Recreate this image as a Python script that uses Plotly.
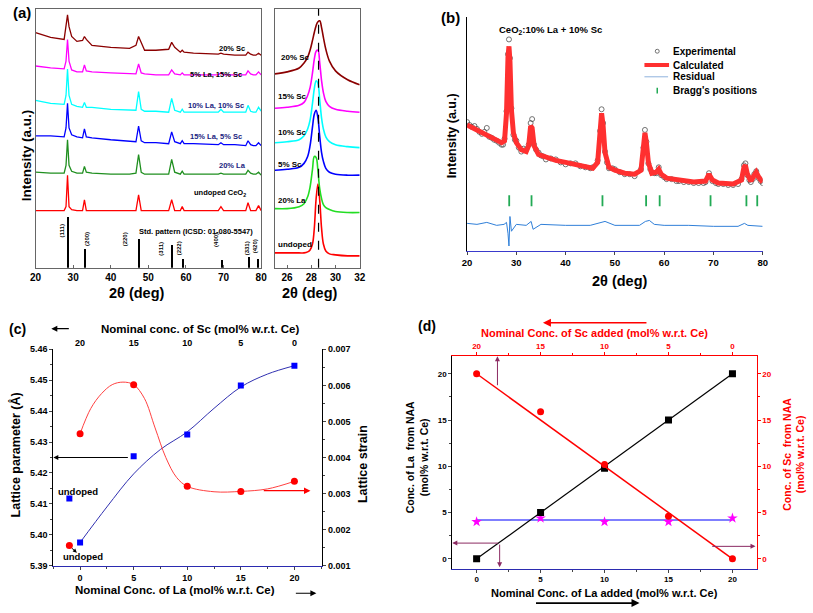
import plotly.graph_objects as go

W, H = 813, 613
def px(x): return x / W
def py(y): return 1 - y / H

FONT = "Arial, Liberation Sans, sans-serif"
RED, GREEN, BLUE, CYAN, MAGENTA, MAROON = "#ff0000", "#1f8f1f", "#0000ff", "#00ffff", "#ff00ff", "#8b0000"

# ---------------- panel (a): XRD patterns (arbitrary stacked intensity) ----------------
XA = [20, 24, 27.6, 28.1, 28.5, 28.9, 29.6, 31, 32.5, 33.0, 33.5, 35, 40, 45, 46.7, 47.4, 48.1, 49, 52,
      55.4, 56.2, 57.0, 58.5, 59.0, 59.5, 62, 68.6, 69.3, 70.0, 73, 75.9, 76.5, 77.2, 77.9, 78.6, 79.3, 80]
A_UNDOPED = [58, 58, 58, 62, 94, 62, 59, 58, 58, 69, 58, 58, 58, 58, 58, 74, 58, 58, 58,
             58, 69, 58, 58, 62, 58, 58, 58, 62, 58, 58, 58, 66, 58, 58, 58, 63, 58]
A_LA20 = [97, 96, 96, 104, 130, 104, 98, 96, 96, 103, 97, 96, 95, 95, 96, 115, 97, 95, 95,
          95, 110, 97, 95, 98, 95, 95, 95, 96, 95, 95, 95, 99, 96, 95, 95, 97, 94]
A_LA15SC5 = [134, 134, 133, 142, 167, 142, 135, 133, 132, 141, 133, 132, 130, 128, 128, 144, 129, 127, 127,
             126, 138, 128, 126, 129, 126, 126, 125, 127, 125, 125, 124, 129, 125, 124, 124, 127, 124]
A_LA10SC10 = [170, 167, 166, 175, 202, 175, 166, 164, 163, 168, 163, 163, 161, 160, 160, 179, 161, 159, 159,
              158, 172, 160, 158, 161, 158, 158, 158, 161, 158, 158, 158, 165, 159, 158, 158, 163, 159]
A_LA5SC15 = [205, 203, 202, 210, 232, 210, 201, 199, 199, 206, 200, 199, 198, 197, 197, 207, 198, 197, 196,
             196, 201, 197, 196, 198, 196, 196, 196, 198, 196, 196, 196, 200, 197, 196, 196, 199, 196]
A_SC20 = [239, 234, 232, 244, 257, 245, 235, 230, 231, 235, 232, 226, 224, 223, 226, 235, 228, 221, 221,
          222, 229, 224, 219, 221, 219, 218, 217, 218, 217, 216, 216, 219, 217, 216, 216, 218, 216]
A_LABELS = ["undoped CeO<sub>2</sub>", "20% La", "15% La, 5% Sc", "10% La, 10% Sc", "5% La, 15% Sc", "20% Sc"]

STD_POS = [28.55, 33.08, 47.48, 56.34, 59.09, 69.42, 76.70, 79.07]
STD_INT = [52, 19, 29, 23, 9, 8, 11, 9]
STD_HKL = ["(111)", "(200)", "(220)", "(311)", "(222)", "(400)", "(331)", "(420)"]

# inset: (111) peak
XI = [25, 26, 27, 27.4, 27.7, 27.9, 28.1, 28.25, 28.4, 28.55, 28.7, 28.85, 29.0, 29.2, 29.5, 30, 31, 32]
I_UNDOPED = [15, 15, 15, 15, 16, 18, 24, 40, 70, 85, 68, 40, 24, 17, 14, 13, 12, 12]
I_LA20 = [60, 60, 62, 65, 72, 82, 100, 113, 112, 98, 80, 70, 64, 61, 59, 57, 56, 56]
I_SC5 = [99, 100, 102, 106, 113, 124, 143, 156, 160, 152, 133, 117, 108, 101, 97, 95, 94, 94]
I_SC10 = [127, 128, 130, 134, 141, 150, 167, 182, 190, 187, 170, 152, 141, 133, 128, 125, 123, 122]
I_SC15 = [162, 163, 165, 168, 175, 183, 198, 212, 220, 221, 208, 190, 178, 169, 164, 161, 159, 158]
I_SC20 = [197, 199, 203, 208, 214, 221, 231, 239, 246, 250, 251, 244, 234, 222, 210, 200, 191, 186]
I_LABELS = ["undoped", "20% La", "5% Sc", "10% Sc", "15% Sc", "20% Sc"]
PEAK_REF = 28.6

# ---------------- panel (b): Rietveld refinement ----------------
XB = [20, 21, 22, 23, 24, 25, 26, 27, 27.6, 28.0, 28.3, 28.5, 28.7, 29.0, 29.4, 30, 31, 32, 32.5, 32.9, 33.2,
      33.6, 34.5, 36, 38, 40, 42, 44, 45.5, 46.5, 47.0, 47.3, 47.6, 48.0, 48.8, 50, 52, 54, 55.3, 55.8, 56.1,
      56.4, 56.8, 57.5, 58.4, 58.9, 59.4, 60.5, 63, 66, 68.4, 69.1, 69.8, 71, 74, 75.7, 76.2, 76.5, 76.9, 77.6,
      78.3, 78.7, 79.2, 80]
B_CALC = [128, 125.5, 123, 120.5, 118, 115.5, 113, 110, 112, 140, 197, 208, 193, 143, 120, 110, 103, 101, 107,
          127, 125, 107, 98, 95, 92, 90, 88, 86, 84, 90, 120, 140, 128, 100, 85, 82, 79, 78, 82, 103, 120, 110,
          90, 79, 80, 83, 78, 74, 72, 70, 71, 78, 72, 69, 68, 72, 85, 87, 78, 71, 77, 80, 75, 70]
XE = [20, 20.5, 21, 21.5, 22, 22.5, 23, 23.5, 24, 24.5,
      25, 25.5, 26, 26.5, 27, 27.3, 27.6, 28.0, 28.3, 28.5,
      28.7, 29.0, 29.4, 29.7, 30, 30.5, 31, 31.5, 32, 32.5,
      32.9, 33.2, 33.6, 34, 34.5, 35, 35.5, 36, 37, 38,
      39, 40, 41, 42, 43, 44, 45, 45.5, 46.5, 47.0,
      47.3, 47.6, 48.0, 48.4, 48.8, 49.5, 50, 51, 52, 53,
      54, 55.3, 55.8, 56.1, 56.4, 56.8, 57.2, 57.5, 58, 58.4,
      58.9, 59.4, 60, 60.5, 61.5, 62.5, 63, 64, 65, 66,
      67, 68, 68.4, 69.1, 69.8, 70.5, 71, 72, 73, 74,
      75, 75.7, 76.2, 76.5, 76.9, 77.3, 77.6, 78, 78.3, 78.7,
      79.2, 79.6, 80]
B_EXP = [131, 128, 126, 127, 124, 121, 119, 121, 125, 116,
         115, 113, 112, 110, 108, 108, 114, 142, 200, 215,
         196, 145, 118, 113, 112, 105, 101, 104, 103, 108,
         130, 134, 108, 103, 100, 97, 96, 93, 94, 93,
         90, 88, 89, 89, 86, 85, 84, 85, 92, 122,
         144, 130, 101, 90, 84, 84, 83, 80, 78, 78,
         76, 83, 105, 123, 111, 89, 83, 80, 79, 79,
         85, 77, 75, 73, 73, 71, 71, 70, 70, 69,
         69, 69, 70, 79, 71, 69, 68, 68, 67, 67,
         68, 73, 87, 89, 77, 72, 70, 73, 78, 81,
         74, 71, 69]
XR = [20, 22, 24, 26, 27.5, 28.0, 28.3, 28.5, 28.7, 29.0, 30, 32, 33.0, 33.4, 35, 40, 45, 47.3, 48, 50, 55,
      56.2, 57.0, 58, 60, 65, 70, 75, 76.3, 77, 80]
B_RESID = [28, 27, 29, 26, 27, 29, 18, 5, 35, 20, 27, 26, 30, 22, 27, 26, 26, 29, 30, 26, 26, 30, 31, 27, 26,
           26, 25, 25, 28, 26, 25]
BRAGG = [28.55, 33.08, 47.48, 56.34, 59.09, 69.42, 76.70, 78.9]
BRAGG_LEVEL = 51
B_LEGEND = ["Experimental", "Calculated", "Residual", "Bragg's positions"]

# ---------------- panel (c): lattice parameter & strain ----------------
LA_NOM = [0, 5, 10, 15, 20]
SC_NOM = [20, 15, 10, 5, 0]
LATTICE = [5.3975, 5.4254, 5.4324, 5.4483, 5.4547]
STRAIN = [0.00466, 0.00602, 0.00320, 0.00306, 0.00334]
UNDOPED_X = -1
UNDOPED_LATTICE = 5.4117
UNDOPED_STRAIN = 0.00156
# guide curves as drawn in the figure
LAT_CURVE_X = [0, 2.5, 5, 7.5, 10, 12.5, 15, 17.5, 20]
LAT_CURVE = [5.3975, 5.409, 5.4197, 5.4276, 5.4333, 5.4409, 5.4478, 5.452, 5.4547]
STR_CURVE_X = [0, 1, 2, 3, 4, 5, 6, 7, 8, 9, 10, 12.5, 15, 17.5, 20]
STR_CURVE = [0.00466, 0.00536, 0.00577, 0.00602, 0.00609, 0.00602, 0.00564, 0.00482, 0.0040, 0.00345,
             0.0032, 0.00305, 0.00306, 0.00313, 0.00334]

# ---------------- panel (d): NAA ----------------
LA_NAA = [0, 5, 9.8, 15, 20]
SC_NAA = [20, 15.9, 10.2, 4.6, 0]
CE_NAA = [4.0, 4.4, 4.0, 4.0, 4.4]
FIT_X = [0, 20]
LA_FIT = [0, 20]
SC_FIT_X = [20, 0]
SC_FIT = [20, 0]
CE_FIT = [4.2, 4.2]

fig = go.Figure()

# (a) main
a_sets = [(A_UNDOPED, RED), (A_LA20, GREEN), (A_LA15SC5, BLUE), (A_LA10SC10, CYAN), (A_LA5SC15, MAGENTA), (A_SC20, MAROON)]
for ys, col in a_sets:
    fig.add_trace(go.Scatter(x=XA, y=ys, mode="lines", line=dict(color=col, width=1.3),
                             xaxis="x", yaxis="y", hoverinfo="skip"))
fig.add_trace(go.Bar(x=STD_POS, y=STD_INT, width=0.35, marker=dict(color="black", line=dict(width=0)),
                     xaxis="x", yaxis="y"))

# (a) inset
i_sets = [(I_UNDOPED, RED), (I_LA20, "#22dd22"), (I_SC5, BLUE), (I_SC10, CYAN), (I_SC15, MAGENTA), (I_SC20, MAROON)]
for ys, col in i_sets:
    fig.add_trace(go.Scatter(x=XI, y=ys, mode="lines", line=dict(color=col, width=1.6, shape="spline"),
                             xaxis="x2", yaxis="y2"))

# (b)
EXP_COLOR, CALC_COLOR, RES_COLOR, BRAGG_COLOR = "#505050", "#ff3030", "#2f7fd8", "#22aa55"
fig.add_trace(go.Scatter(x=XE, y=B_EXP, mode="markers", name=B_LEGEND[0],
                         marker=dict(symbol="circle-open", size=5, color=EXP_COLOR, line=dict(width=0.8)),
                         xaxis="x3", yaxis="y3"))
fig.add_trace(go.Scatter(x=XB, y=B_CALC, mode="lines", name=B_LEGEND[1],
                         line=dict(color=CALC_COLOR, width=5), xaxis="x3", yaxis="y3"))
fig.add_trace(go.Scatter(x=XR, y=B_RESID, mode="lines", name=B_LEGEND[2],
                         line=dict(color=RES_COLOR, width=1), xaxis="x3", yaxis="y3"))
fig.add_trace(go.Scatter(x=BRAGG, y=[BRAGG_LEVEL] * len(BRAGG), mode="markers", name=B_LEGEND[3],
                         marker=dict(symbol="line-ns", size=8, line=dict(color=BRAGG_COLOR, width=1.8)),
                         xaxis="x3", yaxis="y3"))

# (c)
fig.add_trace(go.Scatter(x=LAT_CURVE_X, y=LAT_CURVE, mode="lines",
                         line=dict(color="#3030b0", width=1, shape="spline", smoothing=1.0),
                         xaxis="x4", yaxis="y4"))
fig.add_trace(go.Scatter(x=LA_NOM, y=LATTICE, mode="markers",
                         marker=dict(symbol="square", size=6, color=BLUE), xaxis="x4", yaxis="y4"))
fig.add_trace(go.Scatter(x=[UNDOPED_X], y=[UNDOPED_LATTICE], mode="markers",
                         marker=dict(symbol="square", size=6, color=BLUE), xaxis="x4", yaxis="y4"))
fig.add_trace(go.Scatter(x=STR_CURVE_X, y=STR_CURVE, mode="lines",
                         line=dict(color="#ff4040", width=1, shape="spline", smoothing=1.0),
                         xaxis="x4", yaxis="y5"))
fig.add_trace(go.Scatter(x=LA_NOM, y=STRAIN, mode="markers",
                         marker=dict(symbol="circle", size=7, color=RED), xaxis="x4", yaxis="y5"))
fig.add_trace(go.Scatter(x=[UNDOPED_X], y=[UNDOPED_STRAIN], mode="markers",
                         marker=dict(symbol="circle", size=7, color=RED), xaxis="x4", yaxis="y5"))
# same samples referenced on the top (Sc) axis so that axis is drawn; invisible
fig.add_trace(go.Scatter(x=SC_NOM, y=LATTICE, mode="markers", marker=dict(opacity=0),
                         xaxis="x5", yaxis="y4", hoverinfo="skip"))

# (d)
fig.add_trace(go.Scatter(x=FIT_X, y=CE_FIT, mode="lines", line=dict(color=BLUE, width=1.2),
                         xaxis="x6", yaxis="y6"))
fig.add_trace(go.Scatter(x=LA_NOM, y=CE_NAA, mode="markers",
                         marker=dict(symbol="star", size=8, color=MAGENTA), xaxis="x6", yaxis="y6"))
fig.add_trace(go.Scatter(x=FIT_X, y=LA_FIT, mode="lines", line=dict(color="black", width=1.2),
                         xaxis="x6", yaxis="y6"))
fig.add_trace(go.Scatter(x=LA_NOM, y=LA_NAA, mode="markers",
                         marker=dict(symbol="square", size=7, color="black"), xaxis="x6", yaxis="y6"))
fig.add_trace(go.Scatter(x=SC_FIT_X, y=SC_FIT, mode="lines", line=dict(color=RED, width=1.5),
                         xaxis="x7", yaxis="y7"))
fig.add_trace(go.Scatter(x=SC_NOM, y=SC_NAA, mode="markers",
                         marker=dict(symbol="circle", size=7, color=RED), xaxis="x7", yaxis="y7"))

bold = lambda s, c="black": dict(family=FONT, size=s, color=c, weight="bold")
noline = dict(showgrid=False, zeroline=False)

layout = dict(
    width=W, height=H, margin=dict(l=0, r=0, t=0, b=0), showlegend=False, hovermode=False,
    paper_bgcolor="white", plot_bgcolor="white", font=dict(family=FONT),
    bargap=0,
    # (a) main
    xaxis=dict(domain=[px(30), px(259)], range=[20, 80], dtick=10, anchor="y", showline=True, mirror=True,
               linecolor="#666", linewidth=1, ticks="inside", ticklen=3, tickcolor="#666",
               tickfont=bold(10), **noline),
    yaxis=dict(domain=[py(267), py(4)], range=[0, 263], anchor="x", showline=True, mirror=True,
               linecolor="#666", linewidth=1, showticklabels=False, ticks="", **noline),
    # (a) inset
    xaxis2=dict(domain=[px(273), px(359)], range=[25, 32], tickvals=[26, 28, 30, 32], anchor="y2",
                showline=True, mirror=True, linecolor="#666", ticks="inside", ticklen=3, tickcolor="#666",
                tickfont=bold(10), **noline),
    yaxis2=dict(domain=[py(267), py(4)], range=[0, 263], anchor="x2", showline=True, mirror=True,
                linecolor="#666", showticklabels=False, ticks="", **noline),
    # (b)
    xaxis3=dict(domain=[px(468), px(768)], range=[20, 80], dtick=10, anchor="y3", showline=True,
                linecolor="#3a3acc", ticks="outside", ticklen=3, tickfont=bold(9.5), **noline),
    yaxis3=dict(domain=[py(250), py(12)], range=[0, 238], anchor="x3", showline=True, linecolor="black",
                showticklabels=False, ticks="", **noline),
    # (c)
    xaxis4=dict(domain=[px(48), px(321)], range=[-2.5, 22.6], tickvals=LA_NOM, anchor="y4", showline=True,
                linecolor="#2b2bb0", ticks="outside", ticklen=3, tickcolor="#444", tickfont=bold(9),
                minor=dict(ticks="outside", ticklen=2, dtick=2.5, tick0=0, tickcolor="#444"), **noline),
    yaxis4=dict(domain=[py(570), py(350)], range=[5.39, 5.46], dtick=0.01, tickformat=".2f", anchor="x4",
                showline=True, linecolor="black", ticks="outside", ticklen=3, tickfont=bold(9),
                minor=dict(ticks="outside", ticklen=2, dtick=0.005), **noline),
    yaxis5=dict(overlaying="y4", side="right", anchor="x4", range=[0.001, 0.007], dtick=0.001,
                tickformat=".3f", showline=True, linecolor="black", ticks="outside", ticklen=3,
                tickfont=bold(9), minor=dict(ticks="outside", ticklen=2, dtick=0.0005), **noline),
    xaxis5=dict(overlaying="x4", side="top", anchor="y4", range=[22.5, -2.6], tickvals=SC_NOM,
                showline=False, ticks="", tickfont=bold(9), **noline),
    # (d)
    xaxis6=dict(domain=[px(453), px(762)], range=[-1.9, 21.9], tickvals=LA_NOM, anchor="y6", showline=True,
                linecolor="#2b2bb0", ticks="outside", ticklen=3, tickcolor="#444", tickfont=bold(8),
                minor=dict(ticks="outside", ticklen=2, dtick=2.5, tick0=0, tickcolor="#444"), **noline),
    yaxis6=dict(domain=[py(573), py(357)], range=[-1.06, 21.9], tickvals=LA_NOM, anchor="x6", showline=True,
                linecolor="black", ticks="outside", ticklen=3, tickfont=bold(8),
                minor=dict(ticks="outside", ticklen=2, dtick=2.5, tick0=0), **noline),
    yaxis7=dict(overlaying="y6", side="right", anchor="x6", range=[-1.06, 21.9], tickvals=SC_NOM,
                showline=True, linecolor=RED, ticks="outside", ticklen=3, tickcolor=RED, tickfont=bold(8, RED),
                minor=dict(ticks="outside", ticklen=2, dtick=2.5, tick0=0, tickcolor=RED), **noline),
    xaxis7=dict(overlaying="x6", side="top", anchor="y6", range=[21.9, -1.9], tickvals=SC_NOM,
                showline=True, linecolor=RED, ticks="outside", ticklen=3, tickcolor=RED,
                tickfont=bold(8, RED), minor=dict(ticks="outside", ticklen=2, dtick=2.5, tick0=0, tickcolor=RED),
                **noline),
)
fig.update_layout(**layout)

ann = []
def text(x, y, s, size, color="black", angle=0, xanchor="center"):
    ann.append(dict(x=px(x), y=py(y), xref="paper", yref="paper", text=s, showarrow=False,
                    font=bold(size, color), textangle=angle, xanchor=xanchor, yanchor="middle"))

# panel letters
text(16, 8, "(a)", 15); text(451, 13, "(b)", 15); text(12, 329, "(c)", 14); text(427, 326, "(d)", 14)
# (a)
text(21, 153, "Intensity (a.u.)", 13.5, angle=-90)
text(133, 293, "2θ (deg)", 14.5)
text(309, 293, "2θ (deg)", 14.5)
a_lab_pos = [(217, 191, "black"), (230, 163, "#1a237e"), (213, 134, "#1a237e"), (213, 102, "#1a237e"),
             (213, 71, "black"), (229, 44, "black")]
for (x, y, c), s in zip(a_lab_pos, A_LABELS):
    text(x, y, s, 7.5, c)
text(193, 230, "Std. pattern (ICSD: 01-080-5547)", 7.5)
hkl_pos = [(57, 230), (82, 238), (121, 238), (157, 248), (176, 247), (213, 239), (245, 247), (253, 245)]
for (x, y), s in zip(hkl_pos, STD_HKL):
    text(x, y, s, 6, angle=-90)
i_lab_pos = [(274, 243), (274, 199), (274, 162), (274, 130), (274, 93), (277, 53)]
for (x, y), s in zip(i_lab_pos, I_LABELS):
    text(x, y, s, 8, xanchor="left")
# (b)
text(453, 133, "Intensity (a.u.)", 12.5, angle=-90)
text(623, 281, "2θ (deg)", 14.5)
text(553, 25, "CeO<sub>2</sub>:10% La + 10% Sc", 9.5)
leg_rows = [47, 61, 73, 87]
for yy, s in zip(leg_rows, B_LEGEND):
    text(675, yy, s, 10, xanchor="left")
# (c)
text(10, 457, "Lattice parameter (Å)", 12.5, angle=-90)
text(363, 467, "Lattice strain", 12.5, angle=-90)
text(197, 329, "Nominal conc. of Sc (mol% w.r.t. Ce)", 11.5)
text(172, 595, "Nominal Conc. of La (mol% w.r.t. Ce)", 11.5)
text(73, 495, "undoped", 9.5)
text(78, 561, "undoped", 9.5)
# (d)
text(418, 460, "Conc. of La  from NAA<br>(mol% w.r.t. Ce)", 10.5, angle=-90)
text(799, 457, "Conc. of Sc  from NAA<br>(mol% w.r.t. Ce)", 10.5, RED, angle=-90)
text(597, 333, "Nominal Conc. of Sc added (mol% w.r.t. Ce)", 11, RED)
text(607, 598, "Nominal Conc. of La added (mol% w.r.t. Ce)", 11)

def arrow(x, y, axv, ayv, xref, yref, color, width=1.0, size=1.0):
    ann.append(dict(x=x, y=y, ax=axv, ay=ayv, xref=xref, yref=yref, axref=xref, ayref=yref, text="",
                    showarrow=True, arrowhead=2, arrowsize=size, arrowwidth=width, arrowcolor=color))

def parrow(x0, y0, x1, y1, color, width=1.0):
    # tail (x0,y0) -> head (x1,y1), pixel positions of the figure
    ann.append(dict(x=px(x1), y=py(y1), xref="paper", yref="paper", ax=x0 - x1, ay=y0 - y1,
                    axref="pixel", ayref="pixel", text="", showarrow=True, arrowhead=2, arrowsize=1,
                    arrowwidth=width, arrowcolor=color))

# (c) arrows
arrow(-2.5, 5.425, 4.6, 5.425, "x4", "y4", "black")
arrow(21.5, 0.00308, 17, 0.00308, "x4", "y5", RED, 1.3)
arrow(-0.3, 0.00136, -0.9, 0.00152, "x4", "y5", "black", 1.0, 0.8)
parrow(65, 329, 46, 329, "black", 1.2)
parrow(293, 598, 315, 598, "black", 1.2)
# (d) arrows
DC = "#8b2a62"
arrow(1.63, 21.9, 1.63, 18.6, "x6", "y6", DC)
arrow(-1.9, 1.7, 1.8, 1.7, "x6", "y6", DC)
arrow(1.8, -0.9, 1.8, 1.7, "x6", "y6", DC)
arrow(21.8, 1.35, 18.3, 1.35, "x6", "y6", DC)
parrow(650, 323, 545, 323, RED, 1.6)
parrow(538, 608, 643, 608, "black", 1.6)

fig.update_layout(annotations=ann)

# inset reference line
fig.add_shape(type="line", xref="x2", yref="y2 domain", x0=PEAK_REF, x1=PEAK_REF, y0=0, y1=1,
              line=dict(color="black", width=1.2, dash="dash"))
# (b) legend glyphs (paper coordinates)
fig.add_shape(type="circle", xref="paper", yref="paper", x0=px(659), x1=px(663), y0=py(49), y1=py(45),
              line=dict(color=EXP_COLOR, width=0.8))
fig.add_shape(type="line", xref="paper", yref="paper", x0=px(648), x1=px(673), y0=py(61), y1=py(61),
              line=dict(color=CALC_COLOR, width=4))
fig.add_shape(type="line", xref="paper", yref="paper", x0=px(648), x1=px(672), y0=py(73), y1=py(73),
              line=dict(color="#8fb3dd", width=1))
fig.add_shape(type="line", xref="paper", yref="paper", x0=px(661), x1=px(661), y0=py(90), y1=py(84),
              line=dict(color=BRAGG_COLOR, width=1.5))

fig.write_html("out.html", config={"displayModeBar": False},
               post_script="document.body.style.margin='0px';document.body.style.overflow='hidden';")
